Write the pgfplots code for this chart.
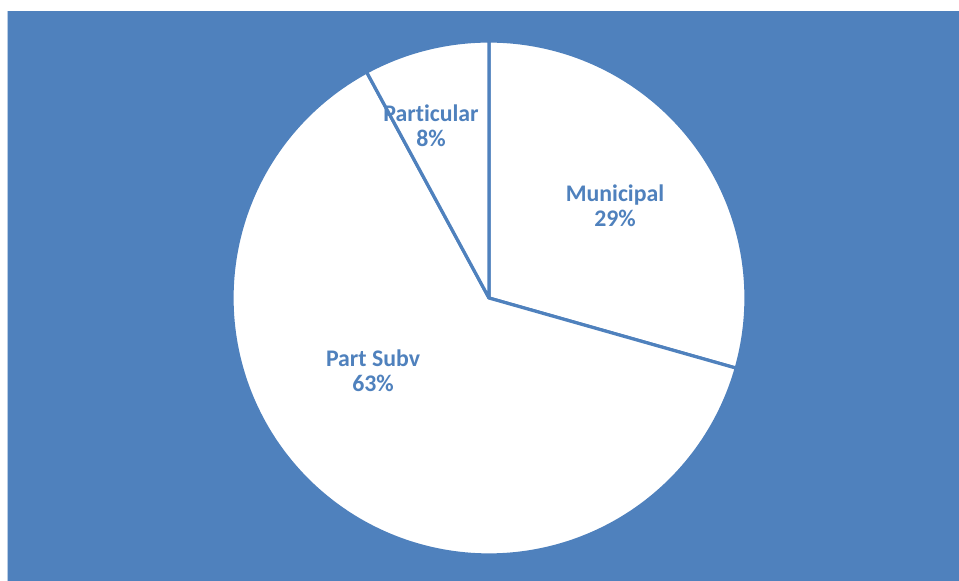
\documentclass[border=0pt]{standalone}
\usepackage{pgfplots}
\pgfplotsset{compat=1.18}
\usepackage{fontspec}
\setmainfont[Ligatures={NoCommon}]{Carlito}
\definecolor{pieblue}{HTML}{4F81BD}
\definecolor{edgeblue}{HTML}{B9CDE5}
\begin{document}
\begin{tikzpicture}
\begin{axis}[
  scale only axis, width=959pt, height=581pt,
  xmin=0, xmax=959, ymin=0, ymax=581,
  hide axis, clip=true,
]
% background
\fill[white] (axis cs:0,0) rectangle (axis cs:959,581);
\fill[pieblue] (axis cs:8,0) rectangle (axis cs:959,570);
\draw[edgeblue, line width=1pt] (axis cs:7.5,0) -- (axis cs:7.5,570);
% shares: Municipal 29.4, Part Subv 62.7, Particular 7.9 (clockwise from 90 deg)
% angles: 90 -> -15.84 -> -241.56 -> -270
\addplot[fill=white, draw=pieblue, line width=3.2pt, line join=round, domain=-15.84:90, samples=90, variable=\t]
  ({489+257*cos(\t)},{283+257*sin(\t)}) -- (axis cs:489,283) -- cycle;
\addplot[fill=white, draw=pieblue, line width=3.2pt, line join=round, domain=-241.56:-15.84, samples=180, variable=\t]
  ({489+257*cos(\t)},{283+257*sin(\t)}) -- (axis cs:489,283) -- cycle;
\addplot[fill=white, draw=pieblue, line width=3.2pt, line join=round, domain=-270:-241.56, samples=30, variable=\t]
  ({489+257*cos(\t)},{283+257*sin(\t)}) -- (axis cs:489,283) -- cycle;
% labels
\node[text=pieblue, font=\fontsize{23.8}{24.5}\selectfont\bfseries, align=center] at (axis cs:615,375) {Municipal\\29\%};
\node[text=pieblue, font=\fontsize{23.8}{24.5}\selectfont\bfseries, align=center] at (axis cs:431,455) {Particular\\8\%};
\node[text=pieblue, font=\fontsize{23.8}{24.5}\selectfont\bfseries, align=center] at (axis cs:373,210) {Part Subv\\63\%};
\end{axis}
\end{tikzpicture}
\end{document}
